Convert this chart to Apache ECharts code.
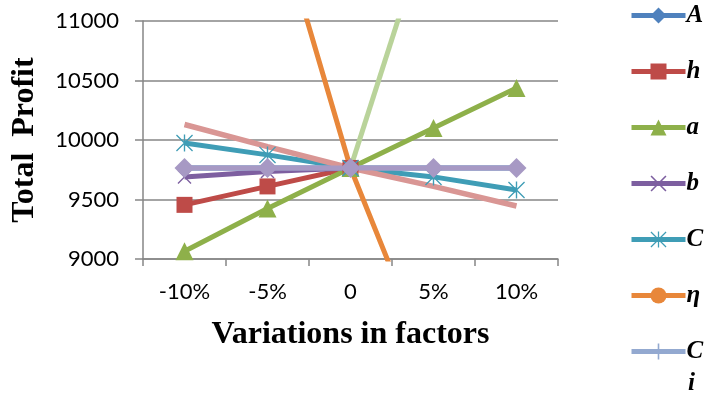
<!DOCTYPE html>
<html>
<head>
<meta charset="utf-8">
<script src="https://cdn.jsdelivr.net/npm/echarts@6/dist/echarts.min.js"></script>
<style>
  html, body { margin: 0; padding: 0; background: #fff; }
  #chart { width: 706px; height: 398px; }
</style>
</head>
<body>
<div id="chart"></div>
<script>
// categories and values
var categories = ['-10%', '-5%', '0', '5%', '10%'];
var yTicks = [9000, 11000, 500]; // min, max, step

var seriesA   = [9765, 9765, 9765, 9765, 9765];
var seriesH   = [9455, 9610, 9765, null, null];
var seriesSa  = [9065, 9425, 9765, 10100, 10437];
var seriesB   = [9690, 9735, 9765, null, null];
var seriesC   = [9975, 9875, 9765, 9690, 9580];
var seriesEta = [null, 12135, 9765, 8035, null];
var seriesCi  = [9765, 9765, 9765, 9765, 9765];
var seriesPink  = [10130, 9945, 9765, 9610, 9445];
var seriesLight = [null, null, 9765, 11935, null];
var seriesLav   = [9765, 9765, 9765, 9765, 9765];

// marker shapes
var xPath = 'path://M0 1.4L1.4 0L20 18.6L18.6 20Z M18.6 0L20 1.4L1.4 20L0 18.6Z';
var starPath = 'path://M9.2 0L10.8 0L10.8 20L9.2 20Z M0 1.1L1.1 0L20 18.9L18.9 20Z M18.9 0L20 1.1L1.1 20L0 18.9Z';
var plusPath = 'path://M9 0L11 0L11 20L9 20Z M0 9L20 9L20 11L0 11Z';

function mk(name, data, color, symbol, size, width) {
    return {
        name: name,
        type: 'line',
        data: data,
        symbol: symbol,
        symbolSize: size,
        showSymbol: symbol !== 'none',
        connectNulls: false,
        lineStyle: { color: color, width: width || 5 },
        itemStyle: { color: color },
        emphasis: { disabled: true },
        animation: false
    };
}

var series = [
    mk('A', seriesA, '#4F81BD', 'diamond', 16),
    mk('h', seriesH, '#BE4B48', 'rect', 16),
    mk('a', seriesSa, '#8EB04A', 'triangle', 18),
    mk('b', seriesB, '#7D5FA0', xPath, 14),
    mk('C', seriesC, '#3F9DB6', starPath, 17),
    mk('η', seriesEta, '#E8873A', 'circle', 13),
    mk('Ci', seriesCi, '#93A9D0', plusPath, 13),
    mk('p', seriesPink, '#D99694', 'none', 0, 5.5),
    mk('g', seriesLight, '#B9D39A', 'none', 0, 5),
    mk('l', seriesLav, '#A799C4', 'diamond', 20)
];

var serifBold = { fontFamily: 'Liberation Serif', fontWeight: 'bold', color: '#000' };

var option = {
    backgroundColor: '#fff',
    animation: false,
    grid: { left: 143, right: 148, top: 21, bottom: 139 },
    legend: {
        orient: 'vertical',
        left: 629,
        top: 3,
        padding: 0,
        itemWidth: 54,
        itemHeight: 20,
        itemGap: 31,
        data: ['A', 'h', 'a', 'b', 'C', 'η', 'Ci'],
        formatter: function (name) { return name === 'Ci' ? 'C' : name; },
        lineStyle: { width: 5 },
        textStyle: {
            fontFamily: 'Liberation Serif', fontWeight: 'bold', fontStyle: 'italic',
            fontSize: 25, lineHeight: 24, color: '#000', padding: [0, 0, 0, -4]
        },
        selectedMode: false
    },
    graphic: [{
        type: 'text',
        left: 688, top: 371,
        style: {
            text: 'i', fontFamily: 'Liberation Serif', fontWeight: 'bold', fontStyle: 'italic',
            fontSize: 25, fill: '#000'
        }
    }],
    xAxis: {
        type: 'category',
        data: categories,
        boundaryGap: true,
        name: 'Variations in factors',
        nameLocation: 'middle',
        nameGap: 60,
        nameTextStyle: Object.assign({ fontSize: 32 }, serifBold),
        axisLine: { show: true, lineStyle: { color: '#868686', width: 1.5 } },
        axisTick: { show: true, length: 7, interval: 0, lineStyle: { color: '#868686', width: 1.5 } },
        axisLabel: { margin: 22, fontFamily: 'Lato', fontSize: 22, color: '#000', interval: 0 },
        splitLine: { show: false }
    },
    yAxis: {
        type: 'value',
        min: yTicks[0],
        max: yTicks[1],
        interval: yTicks[2],
        name: 'Total  Profit',
        nameLocation: 'middle',
        nameGap: 102,
        nameRotate: 90,
        nameTextStyle: Object.assign({ fontSize: 32 }, serifBold),
        axisLine: { show: true, lineStyle: { color: '#868686', width: 1.5 } },
        axisTick: { show: true, length: 8, lineStyle: { color: '#868686', width: 1.5 } },
        axisLabel: {
            margin: 24, fontFamily: 'Lato', fontSize: 22, color: '#000',
            formatter: function (v) { return String(v); }
        },
        splitLine: { show: true, lineStyle: { color: '#868686', width: 1.5 } }
    },
    series: series
};

var myChart = echarts.init(document.getElementById('chart'));
myChart.setOption(option);
</script>
</body>
</html>
